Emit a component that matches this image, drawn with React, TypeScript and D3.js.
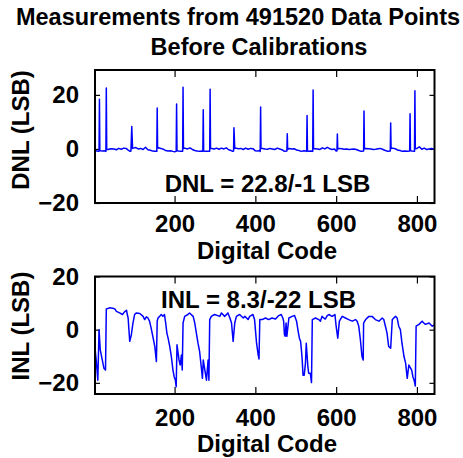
import React from "react";
import * as d3 from "d3";

// text
const titleLines = ["Measurements from 491520 Data Points", "Before Calibrations"];
const xLabel = "Digital Code";
const dnlLabel = "DNL (LSB)";
const inlLabel = "INL (LSB)";
const dnlNote = "DNL = 22.8/-1 LSB";
const inlNote = "INL = 8.3/-22 LSB";

// ticks
const xTicks = [200, 400, 600, 800];
const dnlTicks = [-20, 0, 20];
const inlTicks = [-20, 0, 20];

// DNL per digital code (code, LSB)
const dnlPoints: [number, number][] = [
  [3, -0.6], [8, -0.8], [12, -0.9], [13, -0.8], [14, 18.4], [15, -0.6], [17, -0.7], [22, -0.8],
  [27, -0.7], [30, -0.9], [31, 22.5], [32, -0.2], [35, -0.2], [42, 0.1], [50, 0.0], [56, -0.3],
  [62, 0.2], [68, -0.1], [74, 0.3], [80, 0.2], [86, -0.5], [90, -0.9], [92, -0.8], [94, 8.3],
  [96, 0.2], [98, 0.3], [104, 0.5], [110, 0.0], [116, 0.2], [122, -0.2], [128, 0.6], [134, -0.3],
  [140, -0.5], [146, -0.8], [152, -0.9], [156, -0.9], [157, 15.1], [158, 0.3], [160, 0.4],
  [166, 0.2], [172, -0.1], [178, -0.6], [184, -0.8], [190, -0.7], [196, -0.9], [200, -1.0],
  [204, -0.9], [205, 16.6], [206, -0.7], [210, -0.8], [215, -0.9], [220, -0.9], [221, 22.8],
  [222, 0.2], [225, 0.3], [232, 0.0], [238, 0.4], [244, -0.2], [250, -0.6], [256, -0.8],
  [262, -0.9], [266, -0.8], [270, -0.9], [271, 14.5], [272, -0.8], [276, -0.9], [282, -0.9],
  [287, -0.9], [288, 22.1], [289, 0.2], [292, 0.2], [298, 0.0], [304, 0.3], [310, -0.1],
  [316, 0.3], [322, 0.0], [328, 0.4], [334, -0.3], [340, -0.6], [344, -0.9], [346, -0.8],
  [347, 7.8], [349, 0.2], [352, 0.3], [358, 0.1], [364, 0.2], [370, -0.2], [376, 0.3],
  [382, -0.1], [388, 0.2], [394, 0.1], [400, -0.7], [406, -0.8], [410, -0.6], [412, -0.9],
  [413, 15.5], [414, 0.2], [418, 0.2], [424, 0.0], [430, -0.1], [436, 0.2], [442, 0.0],
  [448, -0.2], [454, 0.3], [460, 0.0], [466, -0.3], [472, -0.9], [478, -0.8], [479, 5.6],
  [480, -0.2], [484, 0.2], [490, 0.0], [496, 0.1], [502, -0.4], [508, -0.6], [514, -0.9],
  [520, -0.7], [524, -0.8], [527, -0.9], [528, 12.4], [529, -0.7], [532, -0.9], [538, -0.8],
  [542, -0.9], [543, 21.8], [544, 0.1], [548, 0.1], [554, 0.0], [560, -0.2], [566, 0.4],
  [572, 0.0], [578, 0.6], [584, 0.1], [590, -0.2], [596, 0.0], [600, -0.8], [602, -0.8],
  [603, 5.5], [604, 0.0], [608, 0.2], [614, 0.1], [620, -0.1], [626, 0.0], [632, -0.2],
  [638, -0.1], [644, 0.0], [650, -0.2], [656, -0.6], [662, -0.9], [668, -0.8], [669, 14.0],
  [670, 0.1], [674, 0.2], [680, 0.1], [686, 0.0], [692, -0.2], [698, -0.1], [704, 0.1],
  [710, 0.2], [716, -0.2], [722, -0.6], [728, -0.9], [734, -0.8], [735, 9.6], [736, 0.2],
  [740, 0.3], [746, 0.1], [752, -0.4], [758, -0.6], [764, -0.9], [770, -0.8], [776, -0.9],
  [782, -0.8], [783, 13.0], [784, -0.7], [788, -0.8], [794, -0.9], [795, 21.5], [796, 0.1],
  [800, 0.2], [806, 0.8], [812, -0.1], [818, 0.3], [824, -0.2], [830, 0.0], [836, 0.2],
  [842, -0.1], [846, 0.1],
];

// INL per digital code (code, LSB)
const inlPoints: [number, number][] = [
  [3, -7.0], [6, -11.4], [10, -19.0], [13, 0.0], [16, -7.6], [21, -11.4], [25, -14.5],
  [29, -15.2], [31, 7.8], [39, 8.2], [47, 8.1], [52, 7.8], [56, 6.9], [64, 6.3], [71, 5.7],
  [76, 6.7], [81, 7.3], [83, 5.7], [85, 4.4], [87, 0.0], [89, -4.4], [93, -1.9], [97, 2.5],
  [101, 5.7], [105, 6.3], [114, 6.1], [122, 5.0], [126, 3.8], [130, 4.8], [134, 4.4],
  [138, 3.2], [142, 0.6], [147, -3.2], [151, -6.3], [155, -12.0], [157, 3.2], [159, 4.4],
  [163, 5.0], [167, 5.7], [171, 5.0], [175, 5.7], [178, 2.5], [181, -1.3], [184, -3.2],
  [188, -6.3], [192, -10.1], [196, -15.2], [199, -17.7], [202, -19.0], [204, -21.5],
  [206, -5.7], [211, -11.4], [214, -13.3], [217, -9.5], [219, -15.2], [221, 2.5], [225, 5.0],
  [233, 5.7], [237, 6.3], [246, 5.0], [250, 2.5], [254, -1.3], [258, -5.1], [262, -8.2],
  [266, -13.9], [269, -18.3], [271, -11.4], [275, -15.2], [279, -19.0], [283, -11.4],
  [285, -19.0], [287, 3.8], [291, 5.0], [299, 5.7], [312, 5.0], [316, 6.3], [324, 5.0],
  [332, 6.3], [337, 4.4], [341, 2.5], [345, -4.4], [349, 2.5], [353, 5.0], [361, 5.7],
  [370, 4.4], [374, 5.0], [382, 3.8], [386, 5.0], [394, 5.7], [398, 3.8], [403, -5.1],
  [407, -9.5], [409, -11.0], [411, 3.8], [417, 3.8], [425, 4.4], [433, 3.8], [441, 4.4],
  [450, 4.0], [458, 5.3], [464, 5.7], [468, 4.4], [470, 3.2], [472, -1.9], [474, -2.5],
  [476, 2.5], [478, -2.5], [483, 4.4], [491, 5.0], [497, 5.3], [502, 3.2], [506, -0.6],
  [509, -3.2], [512, -4.4], [514, -7.6], [516, -11.4], [518, -17.1], [521, -17.1],
  [524, -12.6], [526, -5.1], [530, -13.9], [532, -16.4], [536, -16.4], [539, -19.9],
  [541, 3.8], [549, 4.4], [557, 3.8], [561, 3.2], [565, 5.0], [569, 4.4], [573, 4.0],
  [578, 5.3], [582, 5.7], [590, 5.0], [597, 5.7], [600, 1.3], [604, -3.2], [608, 3.2],
  [615, 5.0], [623, 4.4], [631, 3.8], [640, 3.2], [648, 3.8], [652, 3.2], [656, 1.3],
  [660, -3.8], [664, -10.1], [667, -11.4], [668, 2.5], [673, 3.8], [681, 5.0], [689, 5.0],
  [697, 3.8], [706, 3.2], [714, 4.4], [718, 3.8], [722, 1.3], [726, -1.3], [730, -6.3],
  [735, -7.0], [739, 3.8], [747, 5.0], [751, 4.4], [755, 1.3], [759, 0.0], [763, -5.1],
  [768, -10.1], [772, -12.6], [776, -18.3], [780, -13.3], [787, -15.2], [790, -17.7],
  [793, -19.0], [796, -21.2], [798, 1.3], [805, 2.0], [813, 3.2], [817, 2.5], [821, 2.0],
  [830, 2.5], [838, 1.3], [846, 2.0],
];

const font = "'Liberation Sans', Arial, Helvetica, sans-serif";

const ADCChart = () => {
  const width = 463;
  const height = 458;
  const svgRef = React.useRef<SVGSVGElement>(null);

  React.useEffect(() => {
    const svg = d3.select(svgRef.current);
    svg.selectAll("*").remove();

    const xScale = d3.scaleLinear().domain([3, 843.5]).range([95, 434.5]);

    const panels = [
      {
        data: dnlPoints, yDomain: [-20, 29.2], yRange: [203, 70], yTicks: dnlTicks,
        label: dnlLabel, labelY: 130, note: dnlNote, noteX: 267.5, noteY: 192,
        tickPad: 12, xLabelY: 258.5, clip: "clip-dnl",
      },
      {
        data: inlPoints, yDomain: [-24.2, 20], yRange: [394, 276.5], yTicks: inlTicks,
        label: inlLabel, labelY: 326, note: inlNote, noteX: 258.5, noteY: 308,
        tickPad: 15, xLabelY: 452, clip: "clip-inl",
      },
    ];

    panels.forEach((p) => {
      const yScale = d3.scaleLinear().domain(p.yDomain).range(p.yRange);
      const [x0, x1] = xScale.range();
      const [yb, yt] = yScale.range();

      svg.append("defs").append("clipPath").attr("id", p.clip)
        .append("rect").attr("x", x0).attr("y", yt).attr("width", x1 - x0).attr("height", yb - yt);

      // ticks inward on all four sides
      const styleAxis = (g, showText) => {
        g.select(".domain").remove();
        g.selectAll("line").attr("stroke", "#000").attr("stroke-width", 1.2);
        g.selectAll("text")
          .attr("font-family", font).attr("font-size", 24).attr("font-weight", "bold")
          .attr("fill", "#000").style("display", showText ? null : "none");
      };

      svg.append("g").attr("transform", `translate(0,${yb})`)
        .call(d3.axisBottom(xScale).tickValues(xTicks).tickSize(-7).tickPadding(p.tickPad))
        .call((g) => styleAxis(g, true));
      svg.append("g").attr("transform", `translate(0,${yt})`)
        .call(d3.axisTop(xScale).tickValues(xTicks).tickSize(-7))
        .call((g) => styleAxis(g, false));
      svg.append("g").attr("transform", `translate(${x0},0)`)
        .call(d3.axisLeft(yScale).tickValues(p.yTicks).tickSize(-5).tickPadding(16))
        .call((g) => styleAxis(g, true));
      svg.append("g").attr("transform", `translate(${x1},0)`)
        .call(d3.axisRight(yScale).tickValues(p.yTicks).tickSize(-5))
        .call((g) => styleAxis(g, false));

      const line = d3.line<[number, number]>()
        .x((d) => xScale(d[0]))
        .y((d) => yScale(d[1]));

      svg.append("path")
        .datum(p.data)
        .attr("fill", "none")
        .attr("stroke", "#0000ff")
        .attr("stroke-width", 1.5)
        .attr("stroke-linejoin", "round")
        .attr("clip-path", `url(#${p.clip})`)
        .attr("d", line);

      // box
      svg.append("rect")
        .attr("x", x0).attr("y", yt).attr("width", x1 - x0).attr("height", yb - yt)
        .attr("fill", "none").attr("stroke", "#000").attr("stroke-width", 2);

      const txt = (x, y, s, size = 24) =>
        svg.append("text").attr("x", x).attr("y", y).attr("text-anchor", "middle")
          .attr("font-family", font).attr("font-size", size).attr("font-weight", "bold")
          .attr("fill", "#000").text(s);

      txt(p.noteX, p.noteY, p.note);
      txt(267, p.xLabelY, xLabel);
      txt(0, 0, p.label).attr("transform", `translate(29,${p.labelY}) rotate(-90)`);
    });

    const title = (x, y, s) =>
      svg.append("text").attr("x", x).attr("y", y).attr("text-anchor", "middle")
        .attr("font-family", font).attr("font-size", 23.5).attr("font-weight", "bold")
        .attr("fill", "#000").text(s);
    title(238, 25, titleLines[0]);
    title(259, 55, titleLines[1]);
  }, []);

  return (
    <svg
      ref={svgRef}
      width={width}
      height={height}
      style={{ position: "absolute", left: 0, top: 0, background: "#fff" }}
    />
  );
};

export default function App() {
  return <ADCChart />;
}
